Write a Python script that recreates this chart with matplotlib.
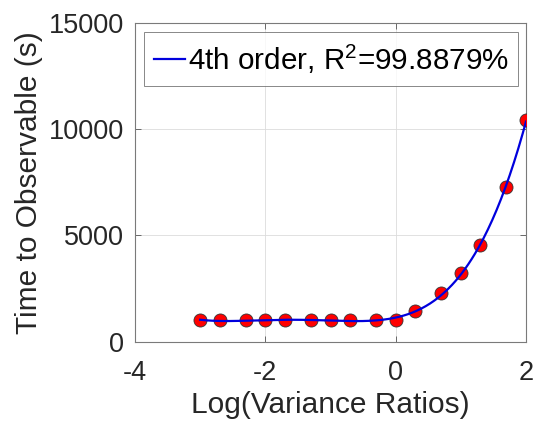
import numpy as np
import matplotlib
matplotlib.use("Agg")
import matplotlib.pyplot as plt

# Data
log_ratio = [-3.0, -2.699, -2.301, -2.0, -1.699, -1.301, -1.0, -0.699, -0.301,
             0.0, 0.301, 0.699, 1.0, 1.301, 1.699, 2.0]
time_obs = [1000, 1000, 1000, 1000, 1000, 1000, 1000, 1000, 1000,
            1000, 1440, 2290, 3210, 4550, 7270, 10440]
legend_label = "4th order, R$^2$=99.8879%"
x_ticks = [-4, -2, 0, 2]
y_ticks = [0, 5000, 10000, 15000]

plt.rcParams['font.family'] = ['Liberation Sans', 'DejaVu Sans']
plt.rcParams['mathtext.fontset'] = 'custom'
plt.rcParams['mathtext.rm'] = 'Liberation Sans'

fig = plt.figure(figsize=(5.35, 4.22), dpi=100)
ax = fig.add_axes([135/535, 1 - 341.5/422, (526-135)/535, (341.5-23.3)/422])

x = np.array(log_ratio)
y = np.array(time_obs)
coef = np.polyfit(x, y, 4)
xf = np.linspace(x.min(), x.max(), 300)
yf = np.polyval(coef, xf)

ax.plot(x, y, 'o', ms=9.4, mfc='#ff0000', mec='#333333', mew=0.6, zorder=3)
ax.plot(xf, yf, '-', color='#0000dd', lw=1.6, zorder=4, label=legend_label)

ax.set_xlim(-4, 2)
ax.set_ylim(0, 15000)
ax.set_xticks(x_ticks)
ax.set_yticks(y_ticks)
ax.set_xticklabels([str(v) if v >= 0 else '-' + str(-v) for v in x_ticks])
ax.grid(True, color='#dcdcdc', lw=0.6)
ax.set_axisbelow(True)
for s in ax.spines.values():
    s.set_color('#7a7a7a')
    s.set_linewidth(0.8)
ax.tick_params(direction='in', top=True, right=True, length=4, width=0.6,
               color='#555555', labelsize=19.5, labelcolor='#262626', pad=8)
ax.tick_params(axis='x', pad=13)

ax.set_xlabel('Log(Variance Ratios)', fontsize=21.5, color='#262626', labelpad=4)
ax.set_ylabel('Time to Observable (s)', fontsize=21.5, color='#262626', labelpad=4)

leg = ax.legend(loc='upper left', fontsize=21.3, frameon=True, fancybox=False,
                handlelength=1.05, handletextpad=0.1, borderpad=0.33,
                borderaxespad=0.3, edgecolor='#6a6a6a')
leg.get_frame().set_linewidth(0.7)
for t in leg.get_texts():
    t.set_color('#000000')

fig.savefig('out.png', dpi=100)
